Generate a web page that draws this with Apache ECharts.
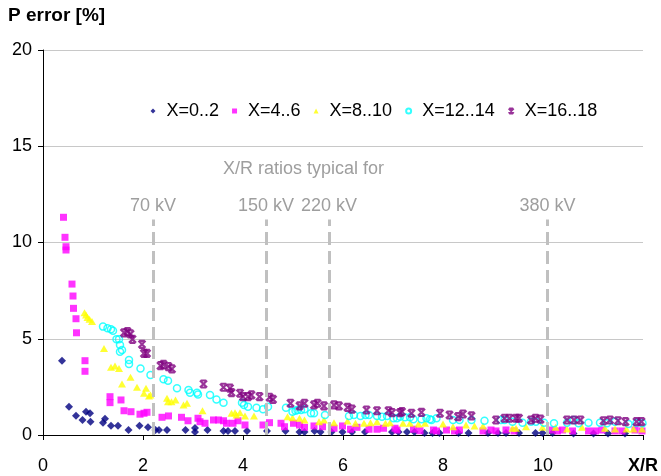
<!DOCTYPE html>
<html>
<head>
<meta charset="utf-8">
<script src="https://cdn.jsdelivr.net/npm/echarts@6/dist/echarts.min.js"></script>
<style>
html,body{margin:0;padding:0;background:#fff;}
#chart{width:661px;height:476px;}
</style>
</head>
<body>
<div id="chart"></div>
<script>
const seriesNames = ['X=0..2', 'X=4..6', 'X=8..10', 'X=12..14', 'X=16..18'];
const xTickLabels = ['0', '2', '4', '6', '8', '10', 'X/R'];
const yTickLabels = ['0', '5', '10', '15', '20'];

const ptsX0_2 = [
  [0.38,3.86],[0.52,1.47],[0.66,1.00],[0.79,0.78],[0.86,1.21],[0.94,1.13],[0.95,0.69],
  [1.20,0.64],[1.24,0.85],[1.36,0.48],[1.50,0.48],[1.71,0.26],[1.93,0.48],[2.10,0.40],
  [2.25,0.26],[2.32,0.26],[2.48,0.26],[2.85,0.26],[3.04,0.36],[3.04,0.16],[3.29,0.26],
  [3.61,0.21],[3.70,0.21],[3.84,0.21],[4.08,0.21],[4.48,0.21],[4.85,0.21],[5.13,0.16],
  [5.23,0.16],[5.43,0.21],[5.55,0.16],[5.77,0.16],[5.99,0.16],[6.18,0.16],[6.44,0.16],
  [6.98,0.16],[7.11,0.16],[7.28,0.16],[7.43,0.16],[7.63,0.10],[7.79,0.10],[7.93,0.10],
  [8.31,0.10],[8.51,0.10],[8.90,0.10],[9.10,0.10],[9.26,0.10],[9.52,0.10],[9.85,0.10],
  [9.99,0.10],[10.19,0.10],[10.61,0.08],[11.01,0.08],[11.30,0.08],[11.64,0.08]
];
const ptsX4_6 = [
  [0.41,11.31],[0.44,10.27],[0.46,9.78],[0.46,9.61],[0.58,7.84],[0.60,7.22],[0.61,6.58],
  [0.66,6.04],[0.67,5.31],[0.84,3.86],[0.84,3.31],[1.34,1.99],[1.34,1.68],[1.56,1.82],
  [1.62,1.26],[1.76,1.21],[1.94,1.08],[2.02,1.13],[2.08,1.18],[2.38,0.92],[2.51,0.99],
  [2.77,0.92],[2.90,0.74],[3.10,0.87],[3.14,0.69],[3.24,0.61],[3.41,0.78],[3.51,0.78],
  [3.61,0.74],[3.67,0.61],[3.80,0.61],[3.90,0.74],[4.04,0.52],[4.40,0.52],[4.53,0.64],
  [4.76,0.61],[4.83,0.43],[5.01,0.61],[5.13,0.52],[5.23,0.40],[5.42,0.47],[5.59,0.43],
  [5.82,0.35],[5.99,0.47],[6.15,0.30],[6.28,0.40],[6.52,0.30],[6.68,0.30],[6.81,0.35],
  [7.04,0.35],[7.08,0.26],[7.41,0.30],[7.54,0.22],[7.81,0.26],[7.87,0.21],[8.07,0.26],
  [8.23,0.21],[8.33,0.26],[8.80,0.21],[8.96,0.26],[9.06,0.21],[9.26,0.26],[9.42,0.21],
  [10.15,0.26],[10.29,0.21],[10.39,0.26],[10.59,0.21],[10.91,0.21],[11.05,0.21],
  [11.18,0.26],[11.44,0.21],[11.58,0.21],[11.84,0.26],[11.98,0.21]
];
const ptsX8_10 = [
  [0.83,6.35],[0.86,6.23],[0.89,6.11],[0.93,6.01],[0.98,5.89],[1.22,4.50],[1.36,3.52],
  [1.44,3.58],[1.52,3.46],[1.58,2.65],[1.75,3.00],[1.88,2.48],[2.02,2.17],[2.06,2.43],
  [2.12,2.03],[2.15,2.08],[2.48,1.91],[2.50,1.73],[2.57,1.73],[2.65,1.82],[2.81,1.56],
  [2.88,1.65],[3.19,1.26],[3.77,1.13],[3.84,1.16],[3.87,1.04],[3.94,1.16],[4.04,0.99],
  [4.22,0.99],[4.89,0.95],[4.99,0.90],[5.13,0.87],[5.23,0.78],[5.52,0.69],[5.62,0.78],
  [5.82,0.64],[6.09,0.73],[6.25,0.61],[6.42,0.61],[6.55,0.64],[6.68,0.69],[6.85,0.61],
  [6.94,0.64],[7.20,0.61],[7.34,0.61],[7.51,0.57],[7.64,0.61],[8.00,0.57],[8.20,0.43],
  [8.46,0.52],[8.63,0.47],[8.80,0.47],[9.39,0.35],[9.46,0.35],[9.66,0.43],[9.99,0.40],
  [10.25,0.40],[10.48,0.31],[10.78,0.40],[11.24,0.35],[11.44,0.31],[11.67,0.31],
  [11.81,0.31],[11.98,0.31]
];
const ptsX12_14 = [
  [1.20,5.63],[1.29,5.54],[1.36,5.49],[1.40,5.42],[1.47,4.97],[1.52,4.97],[1.54,4.68],
  [1.58,4.42],[1.54,4.33],[1.72,3.90],[1.72,3.69],[1.95,3.46],[2.15,3.12],[2.41,2.89],
  [2.50,2.82],[2.68,2.43],[2.91,2.34],[2.94,2.20],[3.08,2.20],[3.10,2.11],[3.34,2.08],
  [3.47,1.85],[3.61,1.68],[3.98,1.68],[4.02,1.56],[4.10,1.47],[4.27,1.42],[4.40,1.34],
  [4.50,1.47],[4.86,1.42],[4.99,1.21],[5.05,1.26],[5.09,1.30],[5.16,1.30],[5.23,1.34],
  [5.36,1.13],[5.42,1.13],[5.64,1.04],[6.12,0.99],[6.22,1.04],[6.35,0.99],[6.45,1.04],
  [6.52,1.04],[6.68,0.99],[6.78,0.95],[6.88,0.99],[7.01,0.87],[7.08,0.87],[7.14,0.95],
  [7.24,0.92],[7.34,0.92],[7.41,0.82],[7.57,0.82],[7.67,0.87],[7.74,0.82],[7.77,0.78],
  [7.87,0.87],[8.20,0.78],[8.33,0.78],[8.57,0.78],[8.83,0.74],[9.16,0.78],[9.23,0.78],
  [9.39,0.69],[9.59,0.64],[9.76,0.69],[9.86,0.69],[10.02,0.64],[10.22,0.61],[10.48,0.64],
  [10.61,0.78],[10.71,0.61],[10.91,0.64],[11.14,0.64],[11.28,0.61],[11.44,0.69],
  [11.71,0.57],[11.87,0.64],[11.99,0.61]
];
const ptsX16_18 = [
  [1.62,5.31],[1.69,5.37],[1.75,5.25],[1.79,4.97],[1.98,4.71],[2.02,4.24],[2.08,4.24],
  [2.35,3.60],[2.41,3.67],[2.51,3.55],[2.58,3.43],[3.21,2.65],[3.61,2.48],[3.74,2.43],
  [3.77,2.20],[3.94,2.17],[4.00,1.99],[4.10,1.99],[4.17,2.08],[4.33,1.99],[4.53,1.96],
  [4.60,1.85],[4.95,1.65],[5.13,1.51],[5.23,1.65],[5.42,1.56],[5.49,1.65],[5.62,1.51],
  [5.82,1.56],[5.92,1.51],[6.09,1.44],[6.18,1.34],[6.47,1.30],[6.68,1.26],[6.91,1.26],
  [6.98,1.16],[7.14,1.16],[7.18,1.21],[7.37,1.13],[7.57,1.18],[7.94,1.13],[8.13,1.04],
  [8.30,0.95],[8.40,1.09],[8.57,0.99],[9.06,0.78],[9.23,0.87],[9.33,0.87],[9.46,0.87],
  [9.52,0.87],[9.76,0.78],[9.85,0.87],[9.95,0.82],[10.48,0.78],[10.62,0.78],[10.75,0.78],
  [11.21,0.74],[11.34,0.78],[11.50,0.74],[11.65,0.69],[11.87,0.69],[11.97,0.69]
];

const voltageLabels = ['70 kV', '150 kV', '220 kV', '380 kV'];
const voltageXR = [2.2, 4.46, 5.72, 10.09];
const voltageLineTop = 11.2;

const FONT = 'Liberation Sans, Arial, Helvetica, sans-serif';
const chart = echarts.init(document.getElementById('chart'));

const markLineData = voltageXR.map((x, i) => [
  { coord: [x, 0], symbol: 'none' },
  { coord: [x, voltageLineTop], symbol: 'none', label: { formatter: voltageLabels[i] } }
]);

const xMark = 'path://M0,0L10,10M10,0L0,10M1,0L9,0M1,10L9,10';

chart.setOption({
  animation: false,
  backgroundColor: '#ffffff',
  textStyle: { fontFamily: FONT },
  title: {
    text: 'P error [%]',
    left: 3, top: 1,
    textStyle: { fontFamily: FONT, fontSize: 19, fontWeight: 'bold', color: '#000' }
  },
  graphic: [{
    type: 'text', left: 223, top: 160,
    style: { text: 'X/R ratios typical for', fill: '#9e9e9e', font: '18px ' + FONT }
  }],
  legend: {
    data: seriesNames,
    left: 145.5, top: 97,
    itemWidth: 5, itemHeight: 5, itemGap: 13,
    textStyle: { fontFamily: FONT, fontSize: 18, color: '#000', padding: [0, 0, 0, 6] }
  },
  grid: { left: 43, right: 13, top: 50, bottom: 41, containLabel: false },
  xAxis: {
    type: 'value', min: 0, max: 12, interval: 2,
    axisLine: { show: true, lineStyle: { color: '#000', width: 1 } },
    axisTick: { show: true, length: 5, lineStyle: { color: '#000' } },
    splitLine: { show: false },
    axisLabel: {
      margin: 22, fontSize: 18, color: '#000', fontFamily: FONT,
      formatter: function (v) {
        const idx = Math.round(v / 2);
        const t = xTickLabels[idx];
        return idx === xTickLabels.length - 1 ? '{b|' + t + '}' : t;
      },
      rich: { b: { fontWeight: 'bold', fontSize: 18, fontFamily: FONT, color: '#000' } }
    }
  },
  yAxis: {
    type: 'value', min: 0, max: 20, interval: 5,
    axisLine: { show: true, lineStyle: { color: '#000', width: 1 } },
    axisTick: { show: true, length: 5, lineStyle: { color: '#000' } },
    splitLine: { show: true, lineStyle: { color: '#c8c8c8', width: 1 } },
    axisLabel: {
      margin: 11, fontSize: 18, color: '#000', fontFamily: FONT,
      formatter: function (v) { return yTickLabels[Math.round(v / 5)]; }
    }
  },
  series: [
    {
      name: 'voltage', type: 'scatter', data: [], z: 1, silent: true,
      markLine: {
        silent: true, symbol: ['none', 'none'], animation: false,
        lineStyle: { color: '#c0c0c0', width: 3, type: [13, 6] },
        label: { show: true, position: 'end', distance: 4, color: '#9e9e9e', fontSize: 18, fontFamily: FONT },
        data: markLineData
      }
    },
    {
      name: seriesNames[0], type: 'scatter', data: ptsX0_2, z: 3,
      symbol: 'diamond', symbolSize: [8, 8],
      itemStyle: { color: '#000080' }
    },
    {
      name: seriesNames[1], type: 'scatter', data: ptsX4_6, z: 3,
      symbol: 'rect', symbolSize: 7,
      itemStyle: { color: '#ff00ff' }
    },
    {
      name: seriesNames[2], type: 'scatter', data: ptsX8_10, z: 3,
      symbol: 'triangle', symbolSize: [8, 7],
      itemStyle: { color: '#ffff00' }
    },
    {
      name: seriesNames[3], type: 'scatter', data: ptsX12_14, z: 3,
      symbol: 'circle', symbolSize: 7,
      itemStyle: { color: 'rgba(255,255,255,0)', borderColor: '#00ffff', borderWidth: 1.5 }
    },
    {
      name: seriesNames[4], type: 'scatter', data: ptsX16_18, z: 3,
      symbol: xMark, symbolSize: 7,
      itemStyle: { color: '#800080', borderColor: '#800080', borderWidth: 2.2 }
    }
  ]
});
</script>
</body>
</html>
